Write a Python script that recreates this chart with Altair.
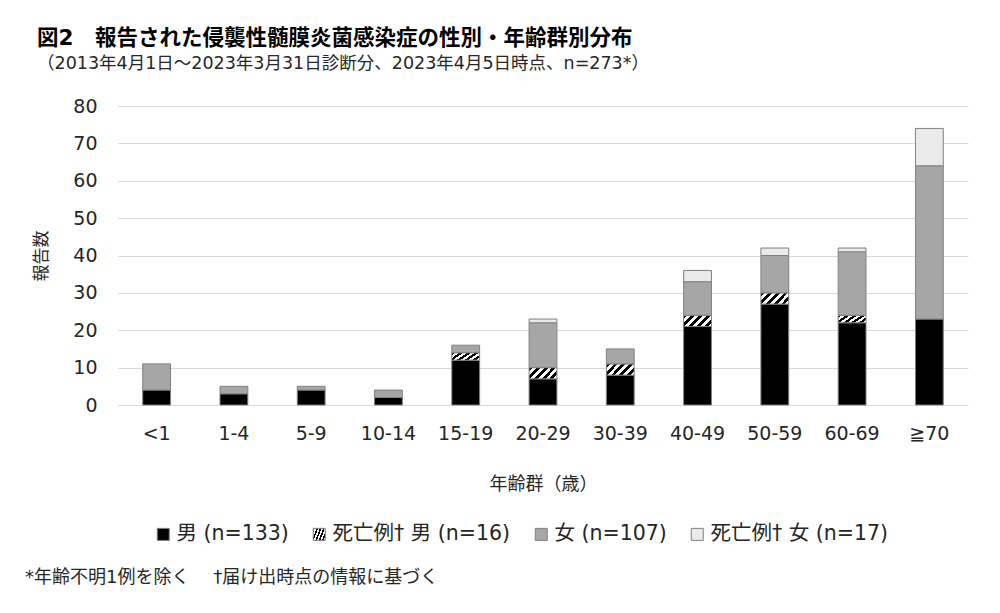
import altair as alt
import pandas as pd

FONT = "DejaVu Sans, Noto Sans CJK JP"

ages = ["<1", "1-4", "5-9", "10-14", "15-19", "20-29", "30-39", "40-49", "50-59", "60-69", "≧70"]
male = [4, 3, 4, 2, 12, 7, 8, 21, 27, 22, 23]
male_death = [0, 0, 0, 0, 2, 3, 3, 3, 3, 2, 0]
female = [7, 2, 1, 2, 2, 12, 4, 9, 10, 17, 41]
female_death = [0, 0, 0, 0, 0, 1, 0, 3, 2, 1, 10]
series = ["男 (n=133)", "死亡例† 男 (n=16)", "女 (n=107)", "死亡例† 女 (n=17)"]

rows = []
for i, a in enumerate(ages):
    for k, vals in enumerate([male, male_death, female, female_death]):
        rows.append({"age": a, "series": series[k], "order": k, "v": vals[i]})
df = pd.DataFrame(rows)

# diagonal hatch as a sharp-stop linear gradient
P = 5
stops = []
for k in range(P):
    s = k / P
    m = (k + 0.5) / P
    e = (k + 1) / P
    stops += [(s, "black"), (m, "black"), (m, "white"), (e, "white")]
stop_str = ",".join("{offset:%.4f,color:'%s'}" % (o, c) for o, c in stops)
hatch_expr = "{gradient:'linear',x1:0,y1:0,x2:1.207,y2:0.471,stops:[" + stop_str + "]}"

color_scale = alt.Scale(
    domain=series,
    range=["#000000", {"expr": hatch_expr}, "#a6a6a6", "#eaeaea"],
)

bars = (
    alt.Chart(df)
    .transform_filter("datum.v > 0")
    .mark_bar(stroke="#808080", strokeWidth=1)
    .encode(
        x=alt.X(
            "age:N",
            sort=ages,
            scale=alt.Scale(paddingInner=0.64, paddingOuter=0.32),
            axis=alt.Axis(
                title="年齢群（歳）",
                labelAngle=0,
                labelFont=FONT,
                labelFontSize=19,
                labelColor="#262626",
                labelPadding=19,
                titleFont=FONT,
                titleFontSize=18,
                titleFontWeight="normal",
                titleColor="#262626",
                titlePadding=32,
                ticks=False,
                domain=False,
                grid=False,
            ),
        ),
        y=alt.Y(
            "v:Q",
            stack="zero",
            scale=alt.Scale(domain=[0, 80]),
            axis=alt.Axis(
                title="報告数",
                values=[0, 10, 20, 30, 40, 50, 60, 70, 80],
                labelFont=FONT,
                labelFontSize=19,
                labelColor="#262626",
                labelPadding=21,
                titleFont=FONT,
                titleFontSize=17,
                titleFontWeight="normal",
                titleColor="#262626",
                titlePadding=22,
                ticks=False,
                domain=False,
                grid=True,
                gridColor="#d9d9d9",
                gridWidth=1,
            ),
        ),
        color=alt.Color(
            "series:N",
            scale=color_scale,
            legend=alt.Legend(
                title=None,
                orient="none",
                legendX=35,
                legendY=418,
                direction="horizontal",
                columns=4,
                symbolType="square",
                symbolSize=144,
                symbolStrokeColor="#808080",
                symbolStrokeWidth=1,
                labelFont=FONT,
                labelFontSize=20.5,
                labelColor="#262626",
                labelOffset=3,
                labelLimit=400,
                columnPadding=20,
            ),
        ),
        order=alt.Order("order:Q"),
    )
)

footnote = pd.DataFrame({"t": ["*年齢不明1例を除く　  †届け出時点の情報に基づく"]})
foot = (
    alt.Chart(footnote)
    .mark_text(align="left", baseline="middle", font=FONT, fontSize=18, color="#262626")
    .encode(text="t:N", x=alt.value(-93), y=alt.value(472))
)

chart = (
    alt.layer(bars, foot)
    .properties(
        width=850,
        height=299,
        autosize=alt.AutoSizeParams(type="none"),
        padding={"left": 110, "top": 98, "right": 24, "bottom": 200},
        title=alt.TitleParams(
            text="図2　報告された侵襲性髄膜炎菌感染症の性別・年齢群別分布",
            subtitle="（2013年4月1日～2023年3月31日診断分、2023年4月5日時点、n=273*）",
            anchor="start",
            frame="group",
            dx=-81,
            offset=25,
            font=FONT,
            fontSize=21.5,
            fontWeight="bold",
            color="#000000",
            subtitleFont=FONT,
            subtitleFontSize=17.5,
            subtitleColor="#262626",
            subtitlePadding=5,
        ),
    )
    .configure_view(stroke=None)
)

chart.save("out.html", embed_options={"renderer": "svg", "actions": False})
